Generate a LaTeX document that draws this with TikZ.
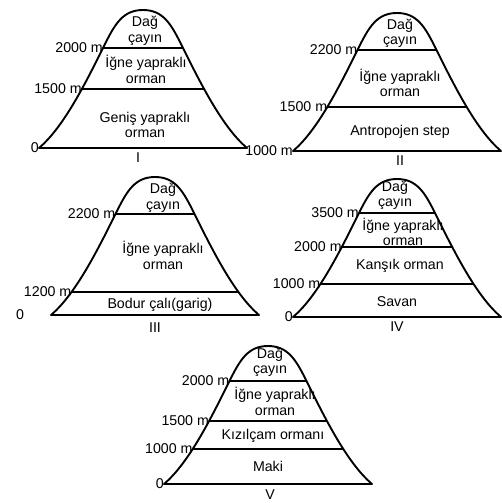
\documentclass[tikz,border=0pt]{standalone}
\usepackage{fontspec}
\setmainfont{Liberation Sans}
\usetikzlibrary{intersections}
\tikzset{
 x=1pt, y=-1pt,
 mline/.style={line width=1.9pt, line join=round},
 zone/.style={font=\fontsize{14.2}{15.5}\selectfont, align=center, inner sep=0pt},
 alt/.style={font=\fontsize{14.2}{16}\selectfont, anchor=east, inner sep=0pt},
 num/.style={font=\fontsize{14.2}{16}\selectfont, inner sep=0pt},
}
% #1 centre x, #2 base y, #3 prefix, #4 base label, #5 levels h/label
\newcommand\mtn[5]{%
 \begin{scope}[shift={(#1,#2)}, yscale=-1]
  \draw[mline, name path=M] (-104,0) .. controls (-78,22) and (-55,70) .. (-38,104)
     .. controls (-28,124) and (-20,138) .. (0,138)
     .. controls (20,138) and (28,124) .. (38,104)
     .. controls (55,70) and (78,22) .. (104,0) -- cycle;
  \coordinate (#3-bl) at (-104,0);
  \node[alt] (#3-base) at (#3-bl) {#4};
  \foreach \h/\t [count=\i] in {#5} {
    \path[name path=L] (-150,\h) -- (150,\h);
    \draw[mline, name intersections={of=M and L, sort by=L, by={#3-a\i,#3-b\i}}] (#3-a\i) -- (#3-b\i);
    \node[alt] (#3-t\i) at (#3-a\i) {\t};
  }
 \end{scope}}
\begin{document}
\begin{tikzpicture}
\useasboundingbox[fill=white] (0,0) rectangle (502,503);
% I
\mtn{143}{148}{I}{0}{100/2000 m, 59/1500 m}
\node[zone] (I-z1) at (145,31) {Dağ\\çayın};
\node[zone] (I-z2) at (146,69.5) {İğne yapraklı\\orman};
\node[zone] (I-z3) at (145,125) {Geniş yapraklı\\orman};
\node[num] (I-n) at (138,158) {I};
% II
\mtn{397}{151}{II}{1000 m}{101/2200 m, 44/1500 m}
\node[zone] (II-z1) at (400,33.5) {Dağ\\çayın};
\node[zone] (II-z2) at (400,83) {İğne yapraklı\\orman};
\node[zone] (II-z3) at (400,132) {Antropojen step};
\node[num] (II-n) at (400,161) {II};
% III
\mtn{155}{315}{III}{}{101/2200 m, 23/1200 m}
\node[num] (III-zero) at (20,315) {0};
\node[zone] (III-z1) at (163,198) {Dağ\\çayın};
\node[zone] (III-z2) at (163,255.5) {İğne yapraklı\\orman};
\node[zone] (III-z3) at (160,305) {Bodur çalı(garig)};
\node[num] (III-n) at (155,328) {III};
% IV
\mtn{397}{317}{IV}{0}{104/3500 m, 70/2000 m, 33/1000 m}
\node[zone] (IV-z1) at (395,195.5) {Dağ\\çayın};
\node[zone] (IV-z2) at (403,232) {İğne yapraklı\\orman};
\node[zone] (IV-z3) at (400,266) {Kanşık orman};
\node[zone] (IV-z4) at (397,302) {Savan};
\node[num] (IV-n) at (397,327) {IV};
% V
\mtn{268}{484}{V}{0}{103/2000 m, 63/1500 m, 35/1000 m}
\node[zone] (V-z1) at (270,362.5) {Dağ\\çayın};
\node[zone] (V-z2) at (275,401.5) {İğne yapraklı\\orman};
\node[zone] (V-z3) at (273,436) {Kızılçam ormanı};
\node[zone] (V-z4) at (268,466) {Maki};
\node[num] (V-n) at (270,495) {V};
\end{tikzpicture}
\end{document}
